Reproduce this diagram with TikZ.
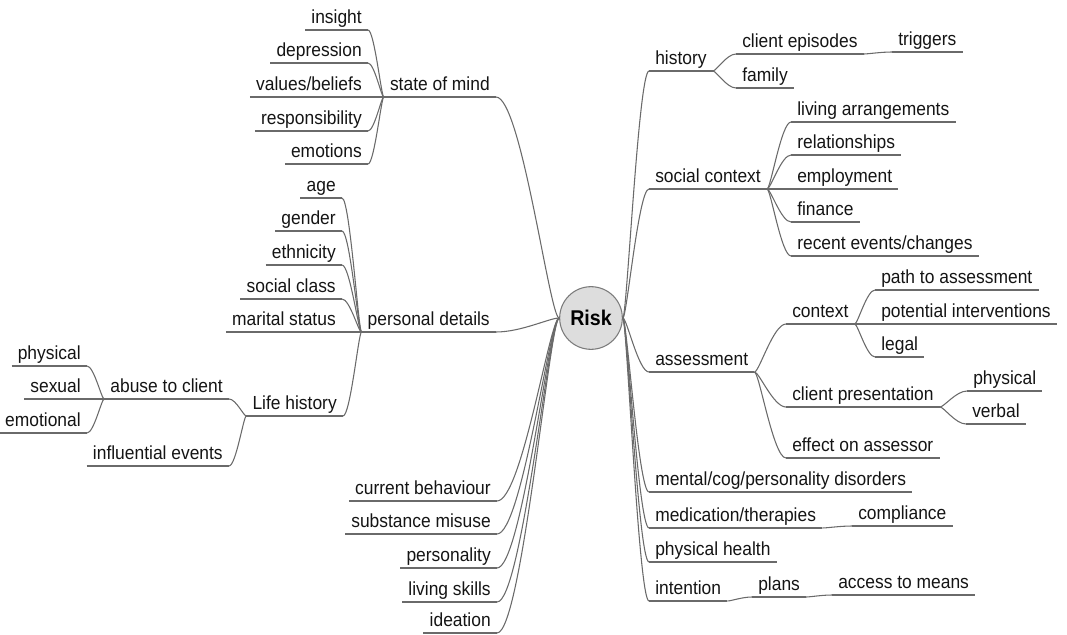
\documentclass[tikz,border=0pt]{standalone}
\usepackage{fontspec}
\setmainfont{Liberation Sans}[FakeStretch=0.92]
\usepackage{xcolor}
\definecolor{linegray}{HTML}{6A6A6A}
\definecolor{riskgray}{HTML}{DDDDDD}
\definecolor{rimgray}{HTML}{7A7A7A}
\definecolor{inkblack}{HTML}{141414}
\usepackage{tikz}
\usetikzlibrary{calc}

\tikzset{
  twig/.style={linegray, line width=0.8pt,
    to path={let \p1=(\tikztostart), \p2=(\tikztotarget) in
      .. controls ({\x1+0.15*(\x2-\x1)},\y1) and ({\x1+0.6*(\x2-\x1)},\y2) .. (\tikztotarget)}},
  topic/.style={font=\fontsize{14.2}{16}\selectfont, text=inkblack,
    inner xsep=4.5pt, inner ysep=4.5pt, text height=10.5pt, text depth=0pt,
    append after command={(\tikzlastnode.south west) edge[linegray, line width=0.8pt] (\tikzlastnode.south east)}},
  lnode/.style={topic, anchor=south east},
  rnode/.style={topic, anchor=south west},
}

\begin{document}
\begin{tikzpicture}[x=0.75pt, y=-0.75pt]
  \useasboundingbox (0,0) rectangle (1067,635);
  % Centre
  \node[circle, draw=rimgray, fill=riskgray, line width=0.8pt, minimum size=47pt, inner sep=0pt,
    font=\bfseries\fontsize{16}{18}\selectfont] (risk) at (591,318) {Risk};

  % Left side
  \node[lnode] (som) at (496,97) {state of mind};
  \node[lnode] (ins) at (368,30) {insight};
  \node[lnode] (dep) at (368,63) {depression};
  \node[lnode] (vb) at (368,97) {values/beliefs};
  \node[lnode] (resp) at (368,131) {responsibility};
  \node[lnode] (emo) at (368,164) {emotions};

  \node[lnode] (pd) at (496,332) {personal details};
  \node[lnode] (age) at (342,198) {age};
  \node[lnode] (gen) at (342,231) {gender};
  \node[lnode] (eth) at (342,265) {ethnicity};
  \node[lnode] (scl) at (342,299) {social class};
  \node[lnode] (mar) at (342,332) {marital status};
  \node[lnode] (lh) at (343,416) {Life history};
  \node[lnode] (abuse) at (229,399) {abuse to client};
  \node[lnode] (infl) at (229,466) {influential events};
  \node[lnode] (phys) at (87,366) {physical};
  \node[lnode] (sex) at (87,399) {sexual};
  \node[lnode] (emot) at (87,433) {emotional};

  \node[lnode] (cb) at (497,501) {current behaviour};
  \node[lnode] (sm) at (497,534) {substance misuse};
  \node[lnode] (pers) at (497,568) {personality};
  \node[lnode] (ls) at (497,602) {living skills};
  \node[lnode] (idea) at (497,633) {ideation};

  % Right side
  \node[rnode] (hist) at (649,71) {history};
  \node[rnode] (ce) at (736,54) {client episodes};
  \node[rnode] (trig) at (892,52) {triggers};
  \node[rnode] (fam) at (736,88) {family};

  \node[rnode] (soc) at (649,189) {social context};
  \node[rnode] (la) at (791,122) {living arrangements};
  \node[rnode] (rel) at (791,155) {relationships};
  \node[rnode] (emp) at (791,189) {employment};
  \node[rnode] (fin) at (791,222) {finance};
  \node[rnode] (rec) at (791,256) {recent events/changes};

  \node[rnode] (ass) at (649,372) {assessment};
  \node[rnode] (ctx) at (786,324) {context};
  \node[rnode] (pta) at (875,290) {path to assessment};
  \node[rnode] (pi) at (875,324) {potential interventions};
  \node[rnode] (leg) at (875,357) {legal};
  \node[rnode] (cp) at (786,407) {client presentation};
  \node[rnode] (cpp) at (967,391) {physical};
  \node[rnode] (verb) at (966,424) {verbal};
  \node[rnode] (eoa) at (786,458) {effect on assessor};

  \node[rnode] (mcp) at (649,492) {mental/cog/personality disorders};
  \node[rnode] (med) at (649,528) {medication/therapies};
  \node[rnode] (comp) at (852,526) {compliance};
  \node[rnode] (ph) at (649,562) {physical health};
  \node[rnode] (int) at (649,601) {intention};
  \node[rnode] (plans) at (752,597) {plans};
  \node[rnode] (atm) at (832,595) {access to means};

  % Branches
  \foreach \b in {som,pd,cb,sm,pers,ls,idea}
    \draw[twig] (risk.west) to (\b.south east);
  \foreach \b in {hist,soc,ass,mcp,med,ph,int}
    \draw[twig] (risk.east) to (\b.south west);

  \foreach \b in {ins,dep,vb,resp,emo}
    \draw[twig] (som.south west) to (\b.south east);
  \foreach \b in {age,gen,eth,scl,mar,lh}
    \draw[twig] (pd.south west) to (\b.south east);
  \foreach \b in {abuse,infl}
    \draw[twig] (lh.south west) to (\b.south east);
  \foreach \b in {phys,sex,emot}
    \draw[twig] (abuse.south west) to (\b.south east);

  \foreach \b in {ce,fam}
    \draw[twig] (hist.south east) to (\b.south west);
  \draw[twig] (ce.south east) to (trig.south west);
  \foreach \b in {la,rel,emp,fin,rec}
    \draw[twig] (soc.south east) to (\b.south west);
  \foreach \b in {ctx,cp,eoa}
    \draw[twig] (ass.south east) to (\b.south west);
  \foreach \b in {pta,pi,leg}
    \draw[twig] (ctx.south east) to (\b.south west);
  \foreach \b in {cpp,verb}
    \draw[twig] (cp.south east) to (\b.south west);
  \draw[twig] (med.south east) to (comp.south west);
  \draw[twig] (int.south east) to (plans.south west);
  \draw[twig] (plans.south east) to (atm.south west);
\end{tikzpicture}
\end{document}
